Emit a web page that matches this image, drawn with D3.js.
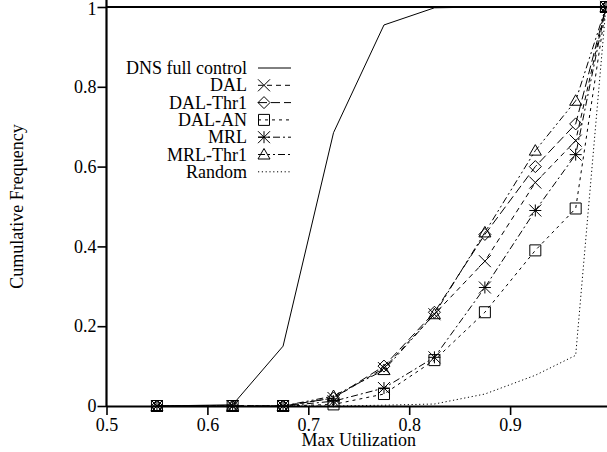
<!DOCTYPE html>
<html>
<head>
<meta charset="utf-8">
<style>
body { margin: 0; background: #fff; }
svg { display: block; }
svg text { font-family: "Liberation Serif", "Times New Roman", serif !important; }
</style>
</head>
<body>
<svg id="chart"></svg>
<script src="https://cdn.jsdelivr.net/npm/d3@7"></script>
<script>
// bin centres on the utilization axis
var utilization = [0.55, 0.625, 0.675, 0.725, 0.775, 0.825, 0.875, 0.925, 0.965, 0.995];

var dnsFull  = [0, 0.003, 0.15, 0.685, 0.955, 0.998, 1, 1, 1, 1];
var dal      = [0, 0, 0, 0.02, 0.095, 0.23, 0.363, 0.56, 0.665, 1];
var dalThr1  = [0, 0, 0, 0.02, 0.1, 0.235, 0.43, 0.6, 0.707, 1];
var dalAN    = [0, 0, 0, 0.004, 0.03, 0.115, 0.235, 0.39, 0.495, 1];
var mrl      = [0, 0, 0, 0.012, 0.045, 0.122, 0.297, 0.49, 0.63, 1];
var mrlThr1  = [0, 0, 0, 0.025, 0.09, 0.23, 0.435, 0.64, 0.765, 1];
var random   = [0, 0, 0, 0, 0.002, 0.005, 0.03, 0.077, 0.127, 1];

var xTicks = [0.5, 0.6, 0.7, 0.8, 0.9];
var yTicks = [0, 0.2, 0.4, 0.6, 0.8, 1];

var series = [
  {name: "DNS full control", values: dnsFull, dash: null,               marker: null},
  {name: "DAL",              values: dal,     dash: "5,4",              marker: "cross"},
  {name: "DAL-Thr1",         values: dalThr1, dash: "9,4",              marker: "diamond"},
  {name: "DAL-AN",           values: dalAN,   dash: "3,4",              marker: "square"},
  {name: "MRL",              values: mrl,     dash: "7,3,2,3",          marker: "star"},
  {name: "MRL-Thr1",         values: mrlThr1, dash: "7,3,2,3,2,3",      marker: "triangle"},
  {name: "Random",           values: random,  dash: "1.2,2.6",          marker: null}
];

var serifFace = "Liberation Serif";
var width = 607, height = 452;
var svg = d3.select("#chart").attr("width", width).attr("height", height)
  .attr("font-family", serifFace);

var x = d3.scaleLinear().domain([0.5, 1.0]).range([106.5, 611]);
var y = d3.scaleLinear().domain([0, 1]).range([406, 7]);

// axes
var xAxis = svg.append("g")
  .attr("transform", "translate(0," + y(0) + ")")
  .call(d3.axisBottom(x).tickValues(xTicks).tickSize(9).tickSizeOuter(0).tickPadding(3)
    .tickFormat(d3.format(".1f")));
var yAxis = svg.append("g")
  .attr("transform", "translate(" + x(0.5) + ",0)")
  .call(d3.axisLeft(y).tickValues(yTicks).tickSize(9).tickSizeOuter(0).tickPadding(1)
    .tickFormat(function(d) { return d === 0 || d === 1 ? d : d3.format(".1f")(d); }));

[xAxis, yAxis].forEach(function(g) {
  g.attr("font-family", serifFace).attr("font-size", 18);
  g.select(".domain").attr("stroke", "#000").attr("stroke-width", 2.2);
  g.selectAll(".tick line").attr("stroke", "#000").attr("stroke-width", 1.6);
  g.selectAll("text").attr("font-family", serifFace).attr("font-size", 18).attr("fill", "#000");
});
yAxis.select(".domain").attr("d", "M0," + (y(0) + 1) + "V0");
yAxis.selectAll(".tick text").filter(function(d) { return d === 1; }).attr("dy", "0.42em");

// top frame
svg.append("line")
  .attr("x1", x(0.5)).attr("x2", width).attr("y1", y(1)).attr("y2", y(1))
  .attr("stroke", "#000").attr("stroke-width", 2.2);

// axis titles
svg.append("text")
  .attr("x", (x(0.5) + x(1)) / 2).attr("y", 446)
  .attr("text-anchor", "middle")
  .attr("font-family", serifFace).attr("font-size", 18)
  .text("Max Utilization");
svg.append("text")
  .attr("transform", "translate(23," + ((y(0) + y(1)) / 2) + ") rotate(-90)")
  .attr("text-anchor", "middle")
  .attr("font-family", serifFace).attr("font-size", 18)
  .text("Cumulative Frequency");

function drawMarker(g, type) {
  var s = 6;
  var p = g.append("path").attr("fill", "none").attr("stroke", "#000").attr("stroke-width", 1);
  if (type === "cross") {
    p.attr("d", "M" + -s + "," + -s + "L" + s + "," + s + "M" + -s + "," + s + "L" + s + "," + -s);
  } else if (type === "diamond") {
    p.attr("d", "M0," + -s + "L" + s + ",0L0," + s + "L" + -s + ",0Z");
  } else if (type === "square") {
    var q = 5.5;
    p.attr("d", "M" + -q + "," + -q + "H" + q + "V" + q + "H" + -q + "Z");
  } else if (type === "star") {
    p.attr("d", "M" + -s + "," + -s + "L" + s + "," + s + "M" + -s + "," + s + "L" + s + "," + -s +
      "M0," + -s + "V" + s + "M" + -s + ",0H" + s);
  } else if (type === "triangle") {
    p.attr("d", "M0," + -s + "L" + s + "," + (s * 0.75) + "L" + -s + "," + (s * 0.75) + "Z");
  }
}

var line = d3.line()
  .x(function(d, i) { return x(utilization[i]); })
  .y(function(d) { return y(d); });

var plot = svg.append("g");
series.forEach(function(s) {
  plot.append("path")
    .attr("d", line(s.values))
    .attr("fill", "none")
    .attr("stroke", "#000")
    .attr("stroke-width", 1)
    .attr("stroke-dasharray", s.dash);
  if (s.marker) {
    s.values.forEach(function(v, i) {
      var g = plot.append("g").attr("transform", "translate(" + x(utilization[i]) + "," + y(v) + ")");
      drawMarker(g, s.marker);
    });
  }
});

// legend
var legend = svg.append("g");
series.forEach(function(s, i) {
  var ly = 68 + i * 17.3;
  legend.append("text")
    .attr("x", 247).attr("y", ly + 6)
    .attr("text-anchor", "end")
    .attr("font-family", serifFace).attr("font-size", 18)
    .text(s.name);
  legend.append("line")
    .attr("x1", 258).attr("x2", 291).attr("y1", ly).attr("y2", ly)
    .attr("stroke", "#000").attr("stroke-width", 1)
    .attr("stroke-dasharray", s.dash);
  if (s.marker) {
    var g = legend.append("g").attr("transform", "translate(264," + ly + ")");
    drawMarker(g, s.marker);
  }
});
</script>
</body>
</html>
